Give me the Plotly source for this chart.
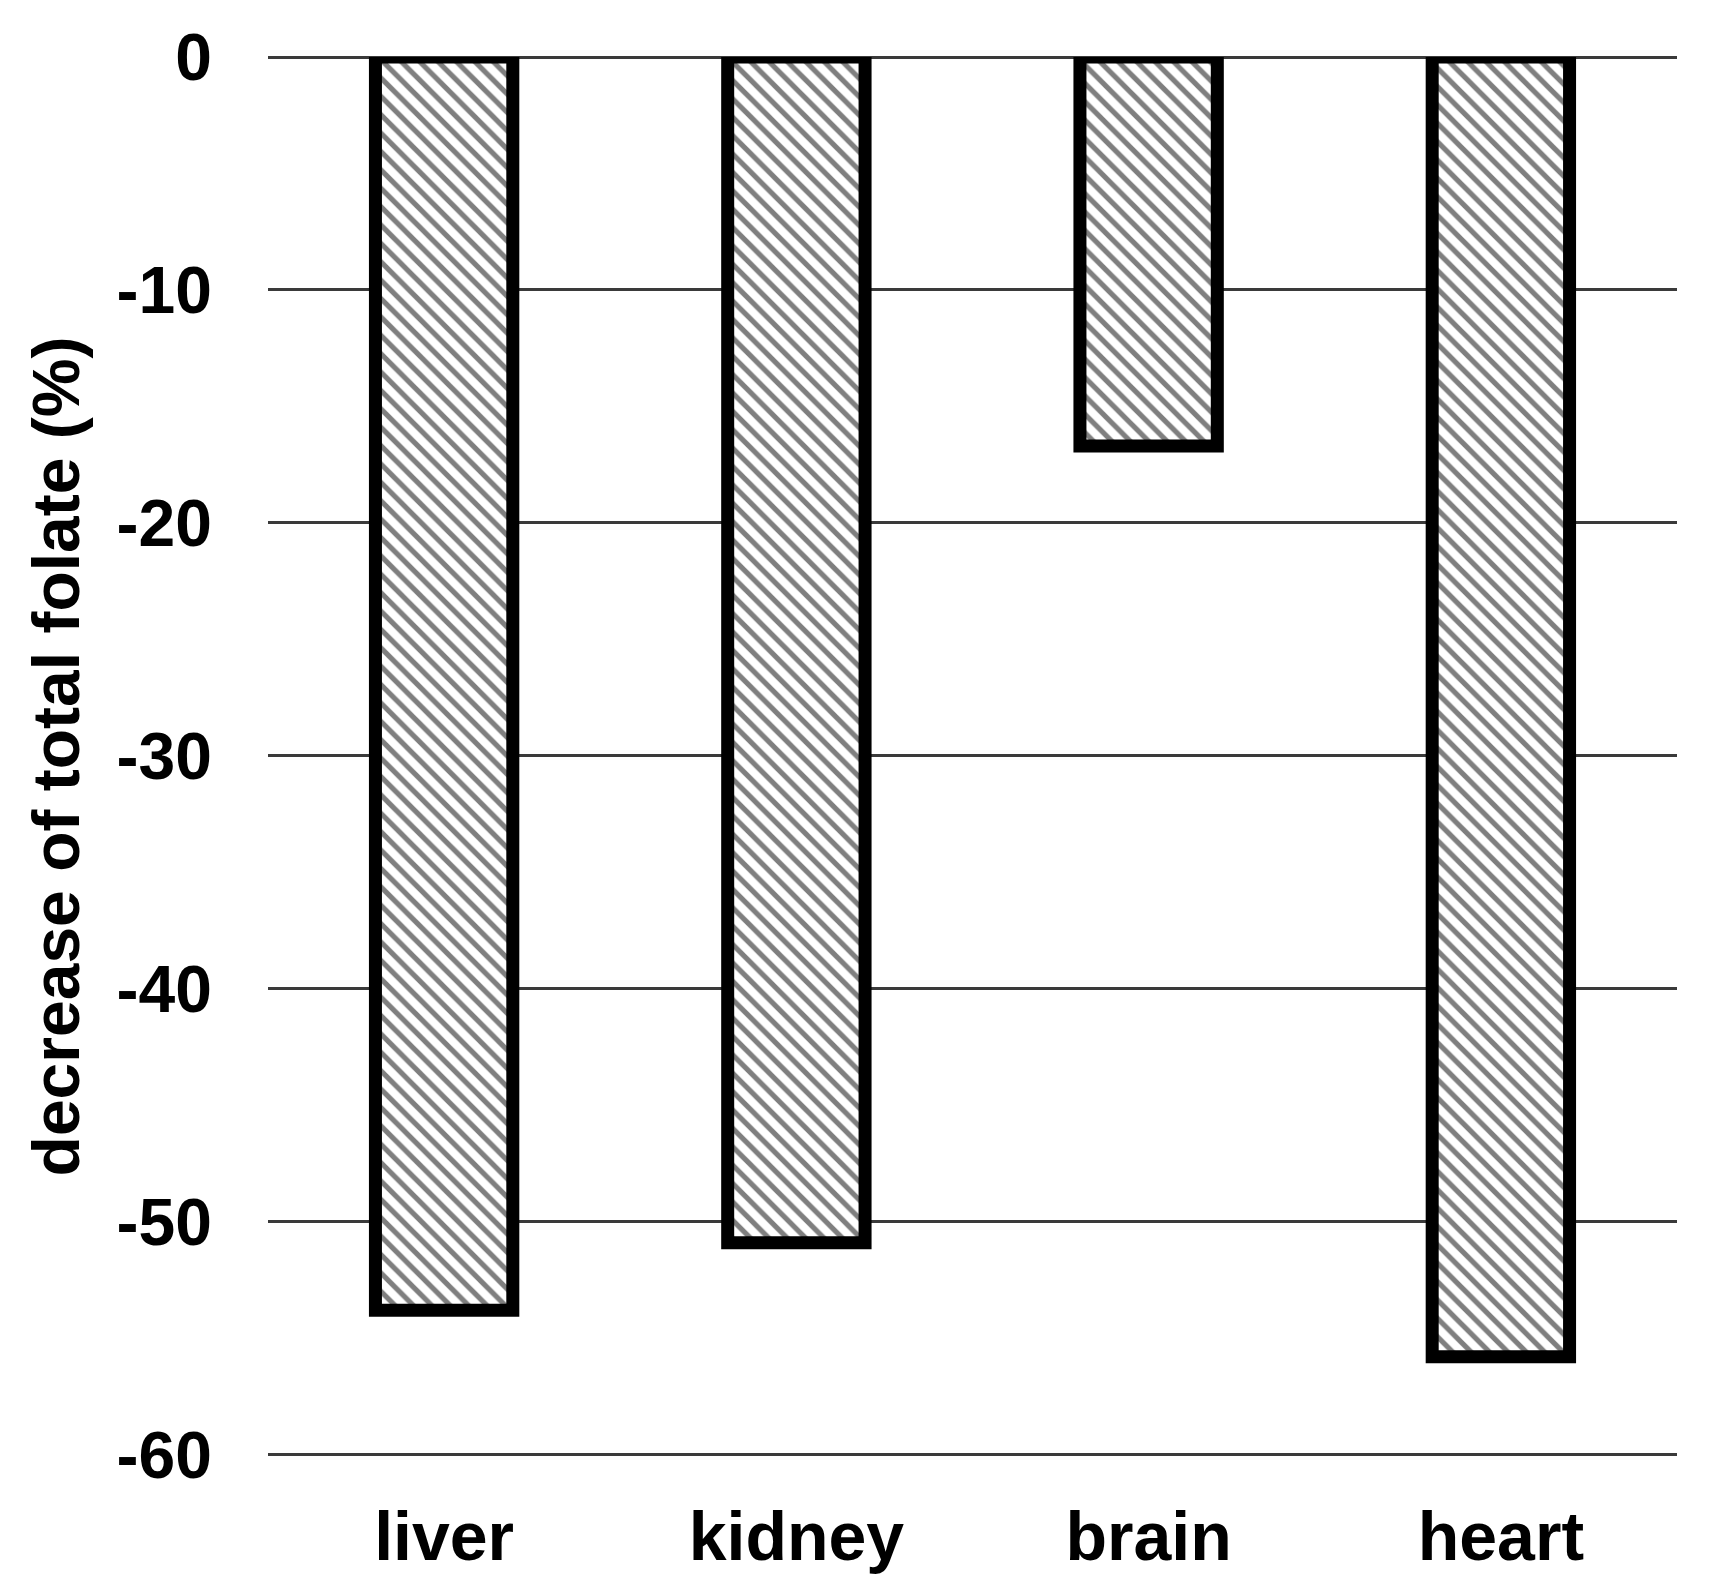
import plotly.graph_objects as go

categories = ["liver", "kidney", "brain", "heart"]
values = [-53.8, -50.9, -16.7, -55.8]
y_ticks = [0, -10, -20, -30, -40, -50, -60]
y_title = "decrease of total folate (%)"

FONT = "Liberation Sans, Arial, sans-serif"

fig = go.Figure()
fig.add_trace(go.Bar(
    x=categories,
    y=values,
    marker=dict(
        color="white",
        line=dict(color="black", width=13),
        pattern=dict(shape="\\", fgcolor="black", bgcolor="white", size=13, solidity=0.4),
    ),
    width=0.39,
))

fig.update_layout(
    width=1702,
    height=1578,
    margin=dict(l=260, r=33, t=45, b=129),
    paper_bgcolor="white",
    plot_bgcolor="white",
    showlegend=False,
    font=dict(family=FONT, color="black", size=68),
    xaxis=dict(
        showgrid=False,
        showline=False,
        ticks="",
        tickfont=dict(family=FONT, size=68, color="black", weight="bold"),
        ticklabelstandoff=35,
    ),
    yaxis=dict(
        range=[-60.06, 0],
        tickvals=y_ticks,
        ticktext=[str(v) for v in y_ticks],
        showgrid=True,
        gridcolor="#3a3a3a",
        gridwidth=3,
        zeroline=True,
        zerolinecolor="#3a3a3a",
        zerolinewidth=3,
        showline=False,
        ticks="",
        tickfont=dict(family=FONT, size=66, color="black", weight="bold"),
        ticklabelstandoff=55,
        title=dict(text=y_title, font=dict(family=FONT, size=66, color="black", weight="bold"), standoff=15),
    ),
)

fig.write_html("out.html")
